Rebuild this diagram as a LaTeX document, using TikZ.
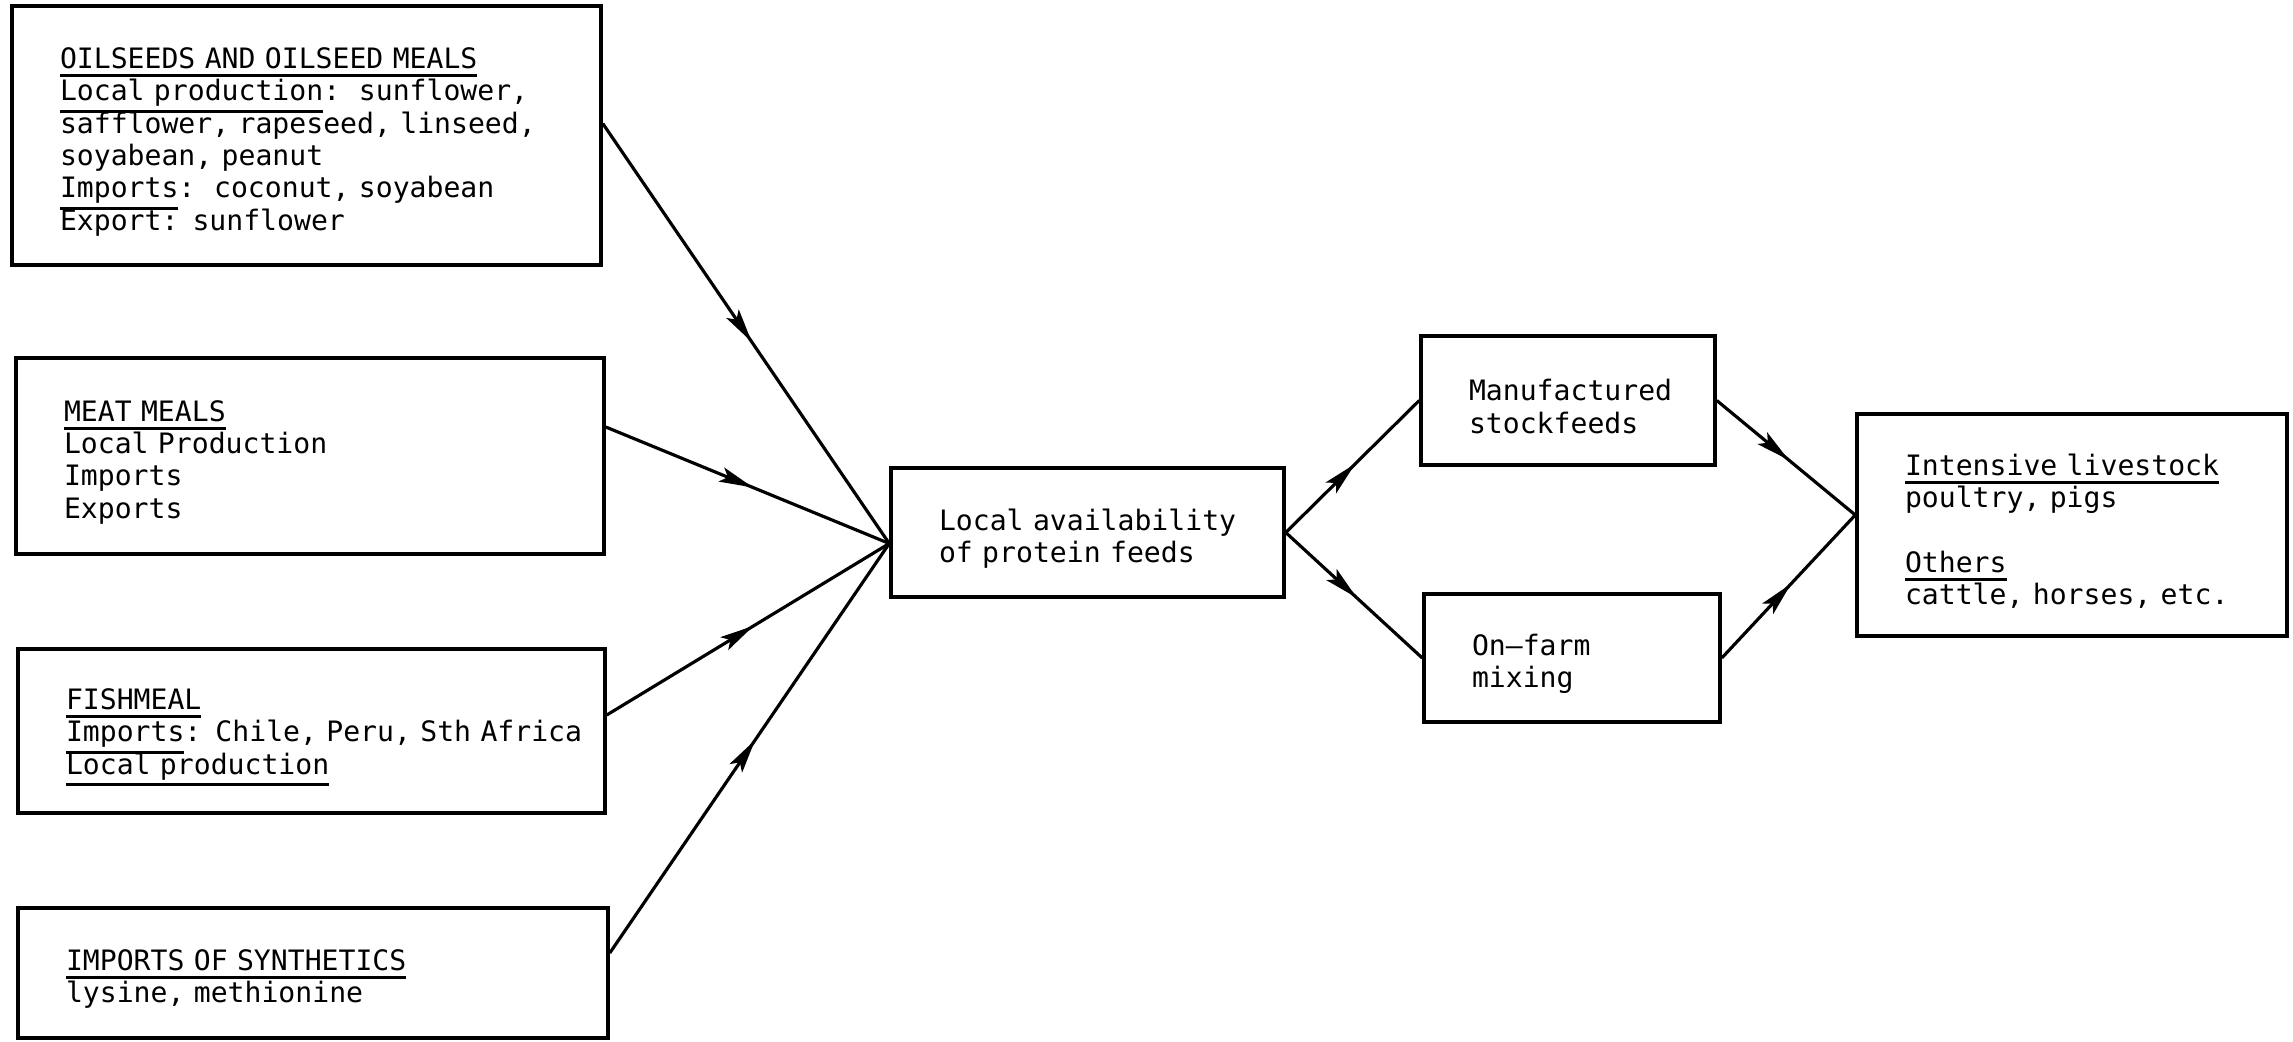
\documentclass[tikz,border=0pt]{standalone}
\usepackage{fontspec}
\newfontfamily\fbmono{DejaVu Sans Mono}
\usetikzlibrary{arrows.meta,decorations.markings}
\newcommand{\fbfont}{\fbmono\fontsize{8}{9.2}\selectfont\lineskiplimit=-20pt\relax}
\newcommand{\fbul}[1]{\leavevmode\setbox0=\hbox{#1}\rlap{\rule[-\dimexpr 0.6\dp0+2.4pt\relax]{\wd0}{0.85pt}}\box0}
\tikzset{
  fb box/.style={draw, line width=1pt, font=\fbfont, align=left,
    inner xsep=4.8mm, inner ysep=0pt,
    execute at begin node={\rule{0pt}{9.5pt}}},
  fb flow/.style={
    line width=.9pt,
    decoration={markings, mark=at position .52 with
      {\arrow{Stealth[length=3.4mm,width=1.5mm,inset=.7mm]}}},
    postaction={decorate}
  }
}

\begin{document}
\begin{tikzpicture}[x=1cm,y=1cm]
  \useasboundingbox (0,0) rectangle (22.93,10.41);

  % sources
  \node[fb box, text width=4.93cm, minimum height=2.59cm] (oil) at (3.065,9.055)
    {\fbul{OILSEEDS AND OILSEED MEALS}\\
     \fbul{Local production}:\ \ sunflower,\\
     safflower, rapeseed, linseed,\\
     soyabean, peanut\\
     \fbul{Imports}:\ \ coconut, soyabean\\
     Export: sunflower};
  \node[fb box, text width=4.92cm, minimum height=1.96cm] (meat) at (3.10,5.85)
    {\fbul{MEAT MEALS}\\
     Local Production\\
     Imports\\
     Exports};
  \node[fb box, text width=4.91cm, minimum height=1.64cm] (fish) at (3.115,3.10)
    {\fbul{FISHMEAL}\\
     \mbox{\fbul{Imports}: Chile, Peru, Sth Africa}\\
     \fbul{Local production}};
  \node[fb box, text width=4.94cm, minimum height=1.30cm] (syn) at (3.13,0.68)
    {\fbul{IMPORTS OF SYNTHETICS}\\
     lysine, methionine};

  % middle and right
  \node[fb box, text width=2.97cm, minimum height=1.29cm] (local) at (10.875,5.085)
    {\mbox{Local availability}\\of protein feeds};
  \node[fb box, text width=1.98cm, minimum height=1.29cm] (manu) at (15.68,6.405)
    {\mbox{Manufactured}\\stockfeeds};
  \node[fb box, text width=2.00cm, minimum height=1.28cm] (farm) at (15.72,3.83)
    {On–farm\\mixing};
  \node[fb box, text width=3.34cm, minimum height=2.22cm] (live) at (20.72,5.16)
    {\fbul{Intensive livestock}\\
     poultry, pigs\\[9.2pt]
     \fbul{Others}\\
     \mbox{cattle, horses, etc.}};

  \coordinate (hub) at ([yshift=-1.1mm]local.west);
  \coordinate (sink) at ([yshift=1mm]live.west);

  \draw[fb flow] ([yshift=1.2mm]oil.east) -- (hub);
  \draw[fb flow] ([yshift=2.9mm]meat.east) -- (hub);
  \draw[fb flow] ([yshift=1.6mm]fish.east) -- (hub);
  \draw[fb flow] ([yshift=2mm]syn.east) -- (hub);
  \draw[fb flow] (local.east) -- (manu.west);
  \draw[fb flow] (local.east) -- (farm.west);
  \draw[fb flow] (manu.east) -- (sink);
  \draw[fb flow] (farm.east) -- (sink);
\end{tikzpicture}
\end{document}
